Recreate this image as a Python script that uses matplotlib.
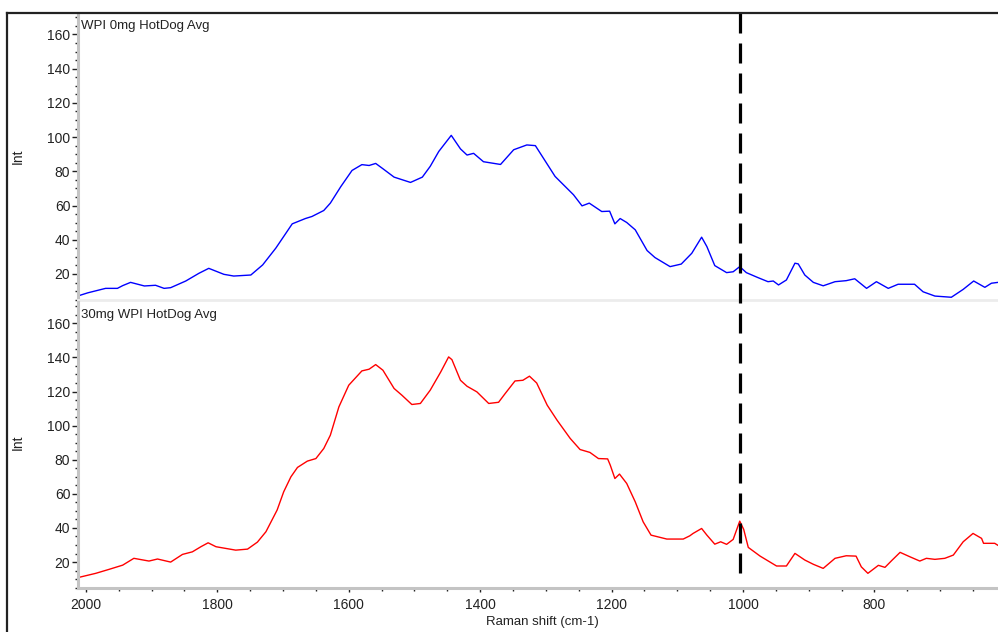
import numpy as np
import matplotlib
matplotlib.use("Agg")
import matplotlib.pyplot as plt
from matplotlib.lines import Line2D
from matplotlib import transforms
from matplotlib.ticker import MultipleLocator

plt.rcParams['font.family'] = ['Liberation Sans', 'DejaVu Sans']
plt.rcParams['lines.scale_dashes'] = False

# spectra (Raman shift in cm-1, intensity)
blue_wn = [2011, 1997, 1970, 1952, 1944, 1932, 1911, 1894, 1881, 1871,
           1848, 1828, 1813, 1790, 1775, 1749, 1731, 1711, 1699, 1686,
           1666, 1656, 1638, 1628, 1612, 1595, 1580, 1569, 1559, 1548,
           1531, 1506, 1488, 1476, 1463, 1444, 1430, 1420, 1410, 1395,
           1369, 1349, 1329, 1316, 1303, 1286, 1258, 1245, 1234, 1215,
           1203, 1195, 1187, 1177, 1164, 1146, 1134, 1111, 1094, 1078,
           1063, 1055, 1043, 1025, 1015, 1005, 995, 978, 962, 954, 946,
           934, 921, 916, 906, 893, 878, 860, 843, 830, 812,
           797, 779, 764, 739, 726, 708, 683, 665, 649, 632,
           622, 612]
blue_int = [7.3, 9.0, 11.6, 11.6, 13.2, 15.1, 13.0, 13.4, 11.6, 12.0,
            15.9, 20.4, 23.3, 19.8, 18.8, 19.4, 25.3, 35.1, 41.9, 49.3,
            52.4, 53.6, 57.1, 61.4, 71.1, 80.5, 83.9, 83.4, 84.6, 81.5,
            76.6, 73.5, 76.6, 82.9, 91.6, 101.0, 93.1, 89.5, 90.5, 85.6,
            84.0, 92.6, 95.4, 95.0, 87.2, 77.0, 66.3, 59.8, 61.4, 56.5,
            56.7, 49.3, 52.4, 50.1, 45.8, 33.7, 29.6, 24.3, 25.8, 32.1,
            41.5, 36.0, 24.9, 20.8, 21.3, 24.3, 20.8, 18.0, 15.5, 15.9, 13.6,
            16.5, 26.3, 25.9, 19.4, 15.1, 13.1, 15.5, 16.1, 17.2, 11.6,
            15.5, 11.6, 14.0, 14.0, 9.6, 7.1, 6.4, 11.0, 15.9, 12.2,
            14.6, 15.1]

red_wn = [2011, 1985, 1965, 1944, 1927, 1904, 1891, 1871, 1853, 1838,
          1825, 1814, 1802, 1787, 1772, 1754, 1739, 1726, 1709, 1699,
          1688, 1678, 1663, 1650, 1638, 1628, 1615, 1600, 1580, 1569,
          1559, 1548, 1531, 1519, 1504, 1491, 1476, 1460, 1448, 1443,
          1430, 1420, 1405, 1387, 1372, 1362, 1347, 1335, 1325, 1314,
          1298, 1283, 1263, 1248, 1233, 1220, 1206, 1202, 1195, 1188,
          1177, 1164, 1152, 1140, 1116, 1091, 1081, 1076, 1063, 1055,
          1043, 1034, 1025, 1015, 1005, 999, 992, 974, 949, 934,
          921, 906, 893, 878, 860, 843, 828, 820, 810, 794,
          784, 774, 761, 746, 731, 721, 708, 693, 680, 665,
          650, 637, 634, 617, 612]
red_int = [11.0, 13.4, 15.7, 18.2, 22.2, 20.6, 21.8, 20.0, 24.5, 26.0,
           29.0, 31.3, 29.0, 28.0, 27.0, 27.6, 31.7, 37.8, 50.5, 61.2,
           70.0, 75.5, 79.2, 80.7, 86.6, 94.4, 111.0, 123.7, 132.1, 133.1,
           135.8, 132.5, 121.8, 117.8, 112.4, 113.0, 120.8, 131.5, 140.3, 138.7,
           126.6, 123.1, 119.8, 113.0, 113.7, 118.8, 126.2, 126.6, 129.0, 125.0,
           112.0, 103.2, 92.5, 86.0, 84.3, 80.7, 80.5, 76.8, 69.0, 71.6,
           66.1, 55.3, 43.6, 35.8, 33.5, 33.5, 35.4, 36.8, 39.7, 35.8,
           30.5, 31.9, 30.4, 33.3, 44.0, 39.2, 28.6, 23.5, 17.7, 17.7,
           25.1, 21.2, 18.7, 16.3, 22.2, 23.7, 23.5, 17.2, 13.4, 18.1,
           16.9, 20.8, 25.7, 23.1, 20.6, 22.2, 21.6, 22.2, 24.1, 31.9,
           36.8, 33.9, 31.0, 31.0, 29.8]

titles = ['WPI 0mg HotDog Avg', '30mg WPI HotDog Avg']
marker_wn = 1004

W, H = 998, 632
fig = plt.figure(figsize=(W / 100, H / 100), dpi=100)

def fx(px):
    return px / W

def fy(py):
    return 1 - py / H

ax_top = fig.add_axes([fx(78), fy(300), fx(998) - fx(78), fy(13) - fy(300)])
ax_bot = fig.add_axes([fx(78), fy(588), fx(998) - fx(78), fy(302) - fy(588)])

for ax, wn, inten, col, title in [(ax_top, blue_wn, blue_int, '#0000ff', titles[0]),
                                    (ax_bot, red_wn, red_int, '#ff0000', titles[1])]:
    ax.plot(wn, inten, color=col, lw=1.0)
    ax.set_xlim(2012, 612)
    ax.set_ylim(4.8, 172.5)
    ax.yaxis.set_minor_locator(MultipleLocator(5))
    ax.set_yticks([20, 40, 60, 80, 100, 120, 140, 160])
    ax.tick_params(axis='y', which='major', length=4, width=1, pad=1.5,
                   labelsize=10, labelcolor='#222222', color='#222222')
    ax.tick_params(axis='y', which='minor', length=2, width=1, color='#222222')
    for s in ['top', 'right']:
        ax.spines[s].set_visible(False)
    ax.spines['left'].set_color('#c4c4c4')
    ax.spines['left'].set_linewidth(2.2)
    ax.text(0.003, 1 - 7 / 287, title, transform=ax.transAxes, va='top', ha='left',
            fontsize=9.5, color='#222222')

ax_top.spines['bottom'].set_color('#ececec')
ax_top.spines['bottom'].set_linewidth(2.0)
ax_top.tick_params(axis='x', which='both', bottom=False, labelbottom=False)

ax_bot.spines['bottom'].set_color('#c4c4c4')
ax_bot.spines['bottom'].set_linewidth(2.2)
ax_bot.xaxis.set_minor_locator(MultipleLocator(50))
ax_bot.set_xticks([2000, 1800, 1600, 1400, 1200, 1000, 800])
ax_bot.tick_params(axis='x', which='major', length=3, width=1, pad=4,
                   labelsize=10, labelcolor='#222222', color='#222222')
ax_bot.tick_params(axis='x', which='minor', length=2, width=1, color='#222222')

# dashed marker line through both panels, drawn top-down so a dash starts at the frame
trans = transforms.blended_transform_factory(ax_bot.transData, ax_bot.transAxes)
ax_bot.plot([marker_wn, marker_wn], [(588 - 13) / 286, 6 / 286], transform=trans,
            color='black', lw=2.3, linestyle=(0, (14.4, 7.2)), clip_on=False, zorder=5)

fig.text(fx(18), fy(156), 'Int', rotation=90, ha='center', va='center', fontsize=10,
         color='#222222')
fig.text(fx(18), fy(442), 'Int', rotation=90, ha='center', va='center', fontsize=10,
         color='#222222')
fig.text(fx(542), fy(622), 'Raman shift (cm-1)', ha='center', va='center', fontsize=9.5,
         color='#222222')

# outer frame
fig.add_artist(Line2D([fx(7), fx(7)], [fy(13), 0], color='#222222', lw=1.6))
fig.add_artist(Line2D([fx(7), 1], [fy(13), fy(13)], color='#222222', lw=1.6))

fig.savefig('out.png', dpi=100)
